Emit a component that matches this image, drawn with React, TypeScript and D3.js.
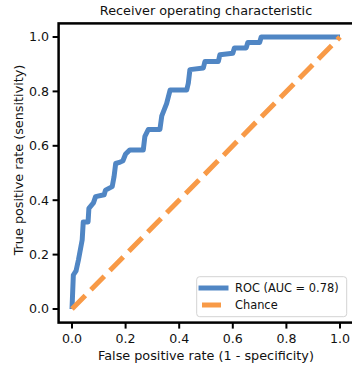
import React from "react";
import * as d3 from "d3";

// ROC points
const fpr = [
  0, 0.005, 0.015, 0.024, 0.038, 0.042, 0.06, 0.063, 0.08, 0.088, 0.12, 0.125,
  0.15, 0.157, 0.163, 0.18, 0.19, 0.2, 0.216, 0.266, 0.272, 0.285, 0.328, 0.335,
  0.353, 0.366, 0.428, 0.434, 0.44, 0.49, 0.496, 0.546, 0.552, 0.6, 0.606, 0.65,
  0.656, 0.7, 0.706, 1.0,
];
const tpr = [
  0, 0.125, 0.14, 0.18, 0.254, 0.32, 0.32, 0.37, 0.39, 0.413, 0.42, 0.437,
  0.45, 0.487, 0.535, 0.54, 0.545, 0.57, 0.585, 0.585, 0.635, 0.66, 0.66, 0.71,
  0.755, 0.805, 0.805, 0.83, 0.88, 0.886, 0.91, 0.91, 0.935, 0.94, 0.96, 0.96,
  0.98, 0.98, 1.0, 1.0,
];
const chance = [0, 1];
const ticks = [0, 0.2, 0.4, 0.6, 0.8, 1.0];
const legendLabels = ["ROC (AUC = 0.78)", "Chance"];

const W = 352;
const H = 371;
const font = "DejaVu Sans, sans-serif";
const blue = "#5086c4";
const orange = "#f89a47";

export default function App() {
  const x = d3.scaleLinear().domain([-0.05, 1.05]).range([58.6, 353.4]);
  const y = d3.scaleLinear().domain([-0.05, 1.05]).range([322.6, 23.4]);
  const [x0, x1] = x.range();
  const [y0, y1] = y.range();

  const line = d3
    .line<number>()
    .x((_, i) => x(fpr[i]))
    .y((_, i) => y(tpr[i]));
  const chanceLine = d3
    .line<number>()
    .x((d) => x(d))
    .y((d) => y(d));

  return (
    <svg
      width={W}
      height={H}
      style={{ position: "absolute", left: 0, top: 0, background: "#fff" }}
      fontFamily={font}
    >
      <rect width={W} height={H} fill="#fff" />
      <defs>
        <clipPath id="plot">
          <rect x={x0} y={y1} width={x1 - x0} height={y0 - y1} />
        </clipPath>
      </defs>

      <g clipPath="url(#plot)">
        <path d={line(fpr) || ""} fill="none" stroke={blue} strokeWidth={5} strokeLinejoin="round" />
        <path
          d={chanceLine(chance) || ""}
          fill="none"
          stroke={orange}
          strokeWidth={5}
          strokeDasharray="19,8"
        />
      </g>

      {/* spines */}
      <rect x={x0} y={y1} width={x1 - x0} height={y0 - y1} fill="none" stroke="#000" strokeWidth={2.5} />

      {/* x ticks */}
      {ticks.map((t) => (
        <g key={"x" + t}>
          <line x1={x(t)} x2={x(t)} y1={y0} y2={y0 + 6} stroke="#000" strokeWidth={2} />
          <text x={x(t)} y={343} textAnchor="middle" fontSize={12.6} fill="#111">
            {t.toFixed(1)}
          </text>
        </g>
      ))}
      {/* y ticks */}
      {ticks.map((t) => (
        <g key={"y" + t}>
          <line x1={x0 - 6} x2={x0} y1={y(t)} y2={y(t)} stroke="#000" strokeWidth={2} />
          <text x={49} y={y(t)} dy="0.35em" textAnchor="end" fontSize={12.6} fill="#111">
            {t.toFixed(1)}
          </text>
        </g>
      ))}

      <text x={(x0 + x1) / 2} y={15} textAnchor="middle" fontSize={12.8} fill="#111">
        Receiver operating characteristic
      </text>
      <text x={(x0 + x1) / 2} y={360} textAnchor="middle" fontSize={12.8} fill="#111">
        False positive rate (1 - specificity)
      </text>
      <text
        transform={`translate(23,160) rotate(-90)`}
        textAnchor="middle"
        fontSize={12.8}
        fill="#111"
      >
        True positive rate (sensitivity)
      </text>

      {/* legend */}
      <g>
        <rect x={196.7} y={276.7} width={150} height={40} rx={3} fill="#fff" fillOpacity={0.8} stroke="#d3d3d3" strokeWidth={1} />
        <line x1={198.5} x2={228.5} y1={288} y2={288} stroke={blue} strokeWidth={5} />
        <line x1={198.5} x2={228.5} y1={305} y2={305} stroke={orange} strokeWidth={5} strokeDasharray="19,8" strokeDashoffset={23.5} />
        <text x={235} y={288} dy="0.35em" fontSize={11.4} fill="#111">{legendLabels[0]}</text>
        <text x={235} y={305} dy="0.35em" fontSize={11.4} fill="#111">{legendLabels[1]}</text>
      </g>
    </svg>
  );
}
